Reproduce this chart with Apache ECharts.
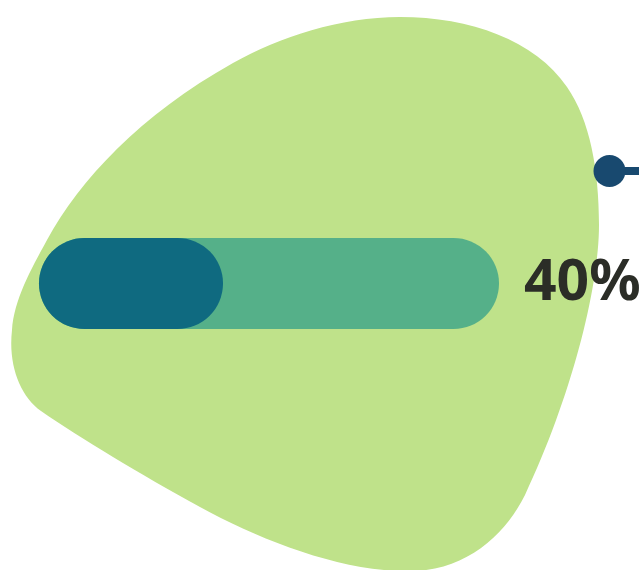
<!DOCTYPE html>
<html>
<head>
<meta charset="utf-8">
<script src="https://cdn.jsdelivr.net/npm/echarts@6/dist/echarts.min.js"></script>
<style>
  html, body { margin: 0; padding: 0; background: #ffffff; }
  #chart { width: 639px; height: 570px; }
</style>
</head>
<body>
<div id="chart"></div>
<script>
// Progress indicator: one category, a full track and a filled share
const categories = ['progress'];
const progressValues = [40];
const trackValues = [100];

// outline of the organic backdrop shape
const blobPath = 'M 400 17 C 470 17 535 40 567 87 C 590 120 599 170 599 225 ' +
                 'C 599 290 570 400 525 495 C 505 535 465 573 405 571 ' +
                 'C 340 571 260 540 200 507 C 140 474 80 438 41 411 ' +
                 'C 20 396 8 365 12 330 C 14 300 30.5 270 47 240 ' +
                 'C 80 180 140 115 233 63 C 280 37 340 17 400 17 Z';

const chart = echarts.init(document.getElementById('chart'), null, { renderer: 'canvas' });

const option = {
  backgroundColor: '#ffffff',
  animation: false,
  graphic: [
    {
      // connector stub
      type: 'line',
      z: 1,
      shape: { x1: 609, y1: 171, x2: 645, y2: 171 },
      style: { stroke: '#18496f', lineWidth: 8 }
    },
    {
      type: 'circle',
      z: 2,
      shape: { cx: 609.5, cy: 171, r: 16 },
      style: { fill: '#18496f' }
    }
  ],
  grid: { left: 39, right: 140, top: 238, height: 91, containLabel: false },
  xAxis: { type: 'value', min: 0, max: 100, show: false },
  yAxis: { type: 'category', data: categories, show: false },
  series: [
    {
      name: 'backdrop',
      type: 'custom',
      z: 0,
      silent: true,
      data: [0],
      renderItem: function () {
        return {
          type: 'path',
          shape: { pathData: blobPath },
          style: { fill: '#bfe28a' }
        };
      }
    },
    {
      name: 'track',
      type: 'bar',
      data: trackValues,
      barWidth: 91,
      z: 3,
      itemStyle: { color: '#55b089', borderRadius: 45.5 },
      label: {
        show: true,
        position: 'right',
        distance: 25,
        formatter: () => progressValues[0] + '%',
        fontFamily: 'Noto Sans',
        fontWeight: 'bold',
        fontSize: 57,
        color: '#2b2d27'
      }
    },
    {
      name: 'progress',
      type: 'bar',
      data: progressValues,
      barWidth: 91,
      barGap: '-100%',
      z: 4,
      itemStyle: { color: '#0f6a80', borderRadius: 45.5 }
    }
  ]
};

chart.setOption(option);
</script>
</body>
</html>
